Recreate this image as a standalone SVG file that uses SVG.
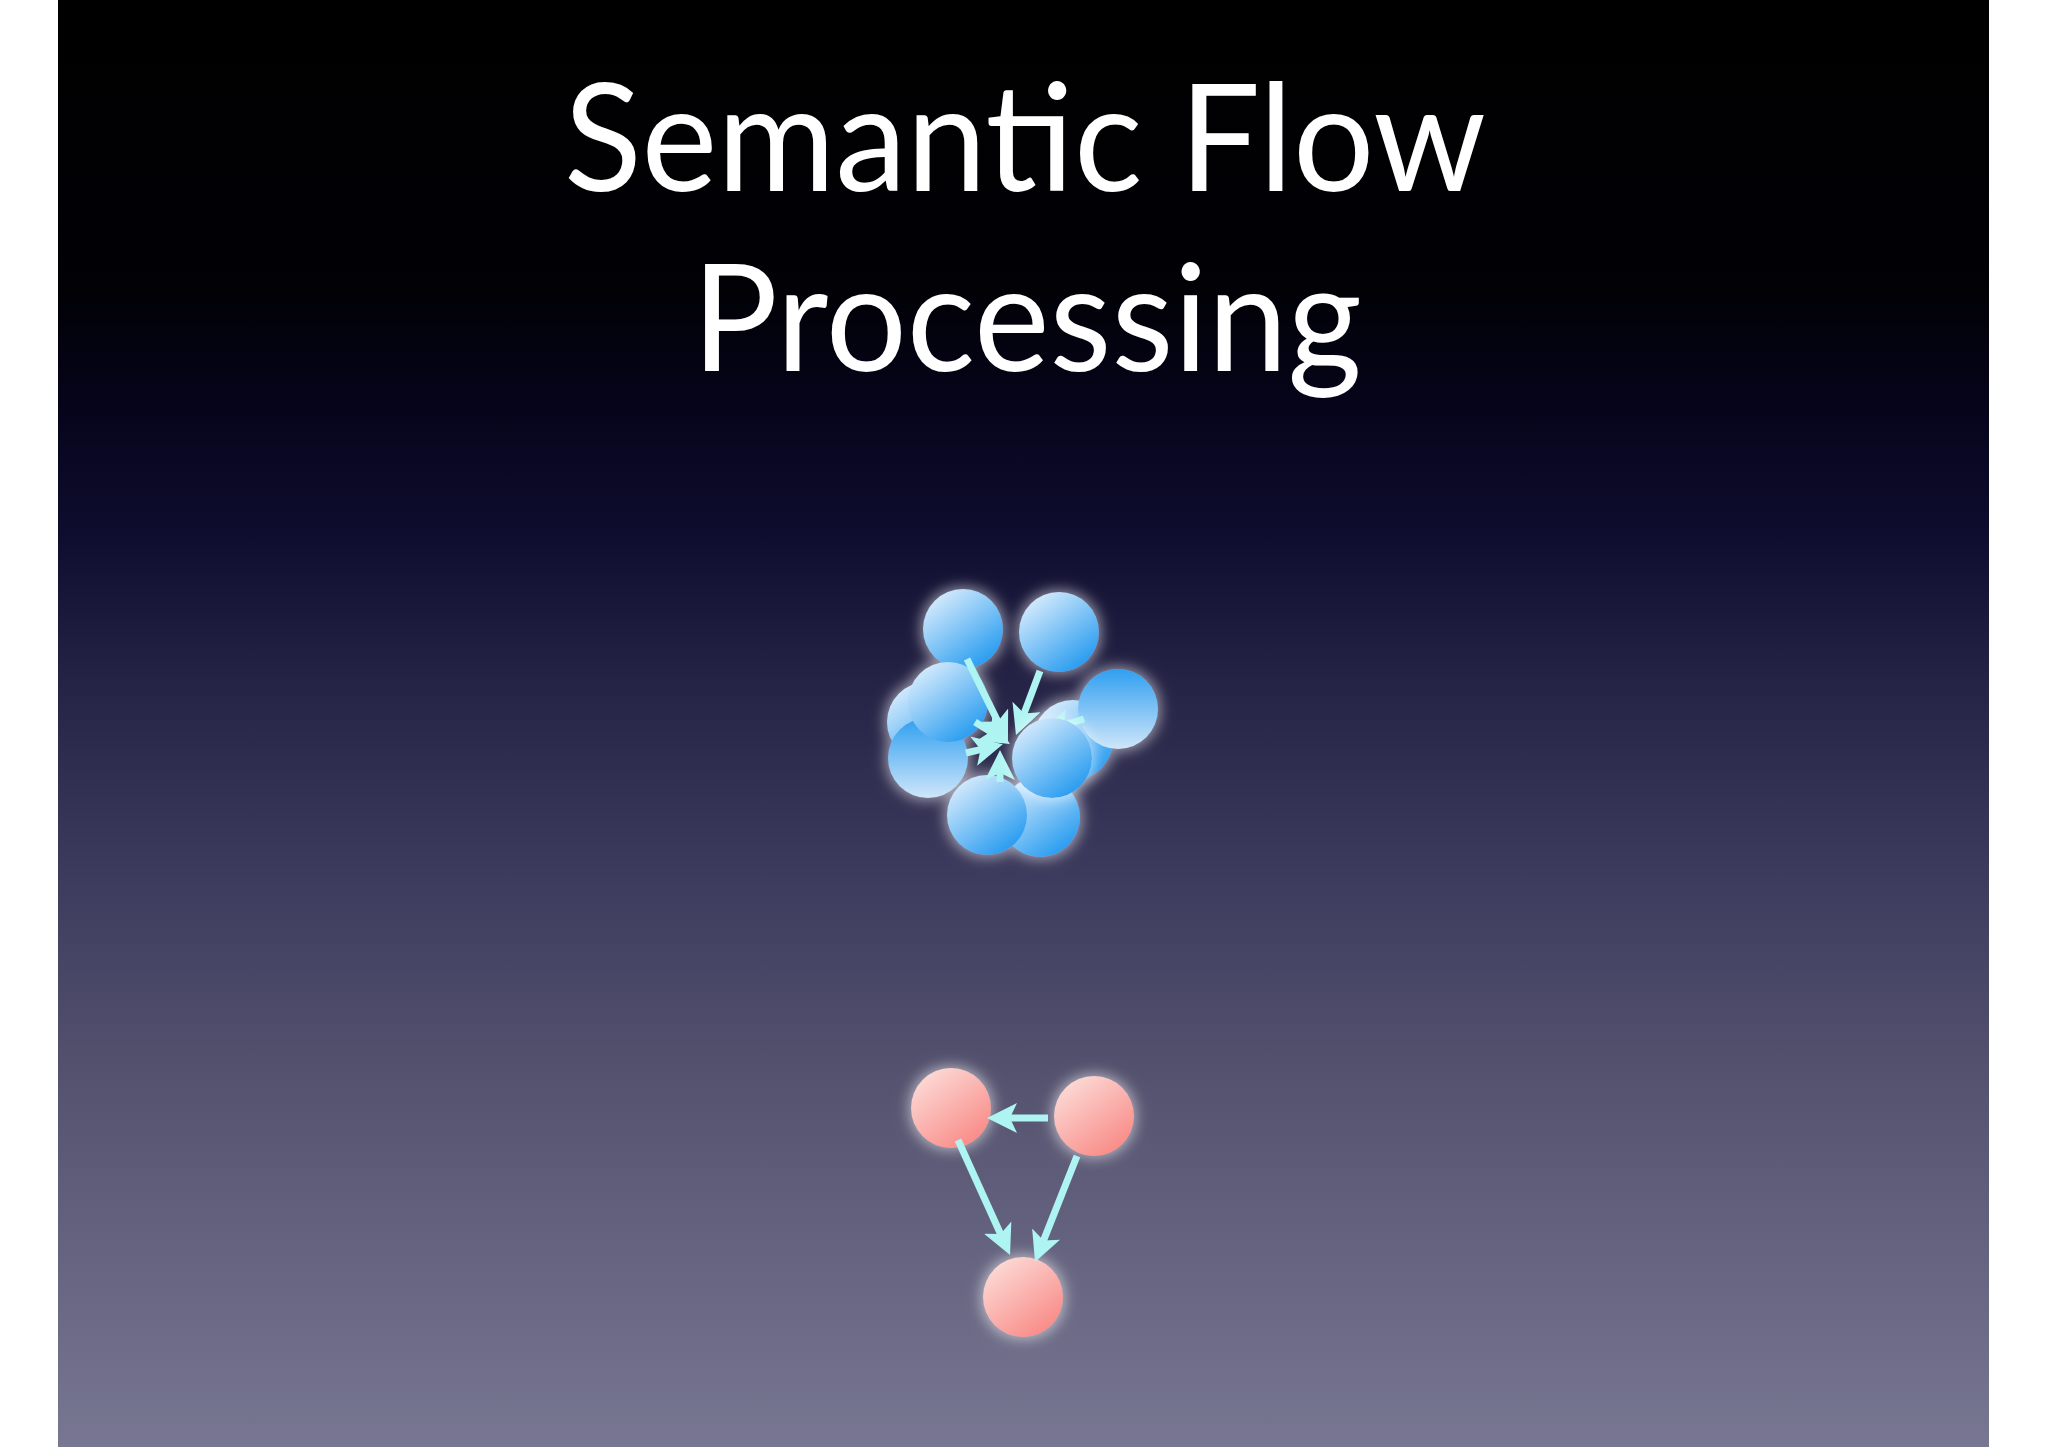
<svg xmlns="http://www.w3.org/2000/svg" width="2048" height="1447" viewBox="0 0 2048 1447">
<defs>
<linearGradient id="bg" x1="0" y1="0" x2="0" y2="1">
<stop offset="0" stop-color="#000000"/>
<stop offset="0.2" stop-color="#010106"/>
<stop offset="0.28" stop-color="#06041a"/>
<stop offset="0.37" stop-color="#0e0d2f"/>
<stop offset="0.47" stop-color="#252345"/>
<stop offset="0.61" stop-color="#3e3c5e"/>
<stop offset="0.75" stop-color="#55536f"/>
<stop offset="1" stop-color="#787792"/>
</linearGradient>
<linearGradient id="blueA" x1="0.2" y1="0.1" x2="0.8" y2="0.9">
<stop offset="0" stop-color="#cfe8fc"/>
<stop offset="1" stop-color="#2b9df0"/>
</linearGradient>
<linearGradient id="blueB" x1="0.5" y1="0" x2="0.5" y2="1">
<stop offset="0" stop-color="#2f9ff0"/>
<stop offset="1" stop-color="#cfe6fa"/>
</linearGradient>
<linearGradient id="pink" x1="0.2" y1="0.1" x2="0.8" y2="0.9">
<stop offset="0" stop-color="#fcd6d2"/>
<stop offset="1" stop-color="#f98d89"/>
</linearGradient>
<filter id="glow" x="-50%" y="-50%" width="200%" height="200%">
<feMorphology in="SourceAlpha" operator="dilate" radius="2" result="d"/>
<feGaussianBlur in="d" stdDeviation="7" result="b"/>
<feFlood flood-color="#ffffff" flood-opacity="0.55"/>
<feComposite in2="b" operator="in" result="g"/>
<feMerge><feMergeNode in="g"/><feMergeNode in="SourceGraphic"/></feMerge>
</filter>
<marker id="arr" markerUnits="userSpaceOnUse" markerWidth="32" markerHeight="32" refX="10" refY="15" orient="auto">
<path d="M0,0 L30,15 L0,30 L7,15 Z" fill="#aef4f2"/>
</marker>
<style>
.title{font-family:"Lato","Open Sans","Liberation Sans",sans-serif;font-size:150px;fill:#ffffff;text-anchor:middle}
.edge{stroke:#aef4f2;stroke-width:7;fill:none;marker-end:url(#arr)}
.b{fill:url(#blueA)}
.bb{fill:url(#blueB)}
.p{fill:url(#pink)}
</style>
</defs>
<rect x="0" y="0" width="2048" height="1447" fill="#ffffff"/>
<rect x="58" y="0" width="1931" height="1447" fill="url(#bg)"/>
<text class="title" x="1025" y="191" textLength="922" lengthAdjust="spacingAndGlyphs">Semantic Flow</text>
<text class="title" x="1027" y="371" textLength="670" lengthAdjust="spacingAndGlyphs">Processing</text>

<g id="cluster" filter="url(#glow)">
<g id="b5"><circle class="b" cx="927" cy="722" r="40"/></g>
<g id="b7"><circle class="b" cx="1073" cy="740" r="40"/></g>
<g id="b10"><circle class="b" cx="1040" cy="817" r="40"/></g>
<g id="b1"><circle class="b" cx="963" cy="629" r="40"/></g>
<g id="b2"><circle class="b" cx="1059" cy="632" r="40"/></g>
<g id="b3"><circle class="bb" cx="1118" cy="709" r="40"/></g>
<g id="b6"><circle class="bb" cx="928" cy="758" r="40"/></g>
<g id="b4"><circle class="b" cx="948" cy="702" r="40"/></g>
<g id="b9"><circle class="b" cx="987" cy="815" r="40"/></g>
</g>
<g id="cluster-edges">
<line class="edge" x1="967" y1="659" x2="999.1" y2="724.1"/>
<line class="edge" x1="1040" y1="671" x2="1023" y2="716.3"/>
<line class="edge" x1="975" y1="722" x2="993" y2="733.3"/>
<line class="edge" x1="966" y1="753" x2="983.4" y2="748.9"/>
<line class="edge" x1="1000" y1="782" x2="1000" y2="770"/>
<line class="edge" x1="1084" y1="719" x2="1060.7" y2="726"/>
</g>
<g id="b8" filter="url(#glow)"><circle class="b" cx="1052" cy="758" r="40"/></g>

<g id="p1" filter="url(#glow)"><circle class="p" cx="951" cy="1108" r="40"/></g>
<g id="p2" filter="url(#glow)"><circle class="p" cx="1094" cy="1116" r="40"/></g>
<g id="p3" filter="url(#glow)"><circle class="p" cx="1023" cy="1297" r="40"/></g>
<g id="connectors">
<line class="edge" x1="1048" y1="1118" x2="1007" y2="1118"/>
<line class="edge" x1="958" y1="1140" x2="1001.8" y2="1236.8"/>
<line class="edge" x1="1077" y1="1156" x2="1042.4" y2="1243.4"/>
</g>
</svg>
